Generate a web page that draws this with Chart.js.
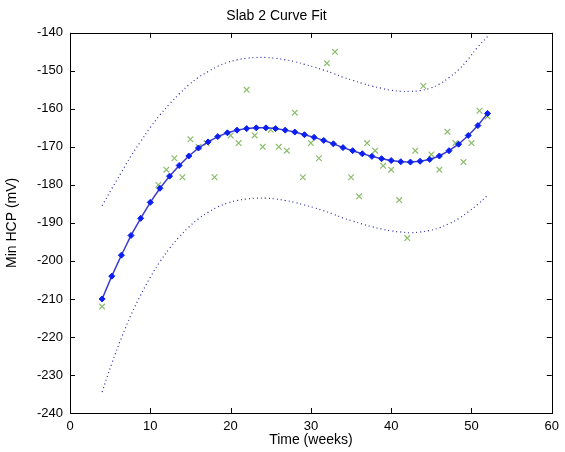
<!DOCTYPE html>
<html>
<head>
<meta charset="utf-8">
<title>Slab 2 Curve Fit</title>
<script src="https://cdn.jsdelivr.net/npm/chart.js@4.4.0/dist/chart.umd.min.js"></script>
<style>
  html, body { margin: 0; padding: 0; background: #fff; }
  #wrap { width: 565px; height: 452px; }
</style>
</head>
<body>
<div id="wrap"><canvas id="fitChart"></canvas></div>
<script>
// Measured readings (week, min HCP in mV)
const weeks = [4, 11, 12, 13, 14, 15, 16, 17, 18, 20, 21, 22, 23, 24, 25, 26, 27, 28, 29, 30,
    31, 32, 33, 35, 36, 37, 38, 39, 40, 41, 42, 43, 44, 45, 46, 47, 48, 49, 50, 51, 52];
const hcp = [-212, -180, -176, -173, -178, -168, -170, -169, -178, -167, -169, -155, -167, -170, -165.5, -170, -171, -161, -178, -169,
    -173, -148, -145, -178, -183, -169, -171, -175, -176, -184, -194, -171, -154, -172, -176, -166, -169, -174, -169, -160.5, -162];

// Fitted curve samples and the dotted bounds around it
const fitWeeks = [4, 5.2, 6.4, 7.6, 8.8, 10, 11.2, 12.4, 13.6, 14.8, 16, 17.2, 18.4, 19.6, 20.8, 22, 23.2, 24.4, 25.6, 26.8,
    28, 29.2, 30.4, 31.6, 32.8, 34, 35.2, 36.4, 37.6, 38.8, 40, 41.2, 42.4, 43.6, 44.8, 46, 47.2, 48.4, 49.6, 50.8, 52];
const fitValues = [-210.0, -204.0, -198.5, -193.3, -188.8, -184.6, -180.9, -177.7, -174.9, -172.4, -170.3, -168.7, -167.3, -166.3,
    -165.6, -165.2, -165.0, -165.0, -165.2, -165.6, -166.1, -166.8, -167.5, -168.3, -169.2, -170.2, -171.0, -171.8, -172.5,
    -173.1, -173.6, -173.9, -174.0, -173.8, -173.3, -172.4, -171.0, -169.3, -167.0, -164.4, -161.2];
const upperBound = [-185.5, -181.0, -176.7, -172.4, -168.6, -164.9, -161.6, -158.7, -156.1, -153.7, -151.7, -150.2, -148.8, -147.8,
    -147.1, -146.7, -146.5, -146.5, -146.7, -147.1, -147.6, -148.3, -149.0, -149.8, -150.7, -151.7, -152.5, -153.3, -154.0,
    -154.6, -155.1, -155.4, -155.4, -155.2, -154.6, -153.5, -151.8, -149.7, -146.9, -143.7, -141.0];
const lowerBound = [-234.5, -227.0, -220.3, -214.2, -209.0, -204.3, -200.2, -196.7, -193.7, -191.1, -188.9, -187.2, -185.8, -184.8,
    -184.1, -183.7, -183.5, -183.5, -183.7, -184.1, -184.6, -185.3, -186.0, -186.8, -187.7, -188.7, -189.5, -190.3, -191.0,
    -191.6, -192.1, -192.4, -192.6, -192.4, -192.0, -191.3, -190.2, -188.9, -187.1, -185.1, -182.8];

const xTicks = [0, 10, 20, 30, 40, 50, 60];
const yTicks = [-240, -230, -220, -210, -200, -190, -180, -170, -160, -150, -140];

function toPoints(xs, ys) {
    return xs.map((x, i) => ({ x: x, y: ys[i] }));
}

// Box around the axes with inward ticks on all four sides
const boxPlugin = {
    id: 'matlabBox',
    afterDatasetsDraw(chart) {
        const { ctx, chartArea: a, scales: { x, y } } = chart;
        const len = 5;
        ctx.save();
        ctx.strokeStyle = '#000';
        ctx.lineWidth = 1;
        ctx.strokeRect(Math.round(a.left) + 0.5, Math.round(a.top) + 0.5,
            Math.round(a.right - a.left), Math.round(a.bottom - a.top));
        ctx.beginPath();
        xTicks.forEach(v => {
            const px = Math.round(x.getPixelForValue(v)) + 0.5;
            ctx.moveTo(px, a.bottom); ctx.lineTo(px, a.bottom - len);
            ctx.moveTo(px, a.top); ctx.lineTo(px, a.top + len);
        });
        yTicks.forEach(v => {
            const py = Math.round(y.getPixelForValue(v)) + 0.5;
            ctx.moveTo(a.left, py); ctx.lineTo(a.left + len, py);
            ctx.moveTo(a.right, py); ctx.lineTo(a.right - len, py);
        });
        ctx.stroke();
        ctx.restore();
    }
};

const family = 'Arial, "Liberation Sans", sans-serif';
const tickFont = { family: family, size: 13 };
const labelFont = { family: family, size: 14 };

new Chart(document.getElementById('fitChart').getContext('2d'), {
    type: 'scatter',
    data: {
        datasets: [
            {
                label: 'Fit',
                type: 'line',
                data: toPoints(fitWeeks, fitValues),
                borderColor: '#3a3acf',
                borderWidth: 1.5,
                pointStyle: 'rectRot',
                pointRadius: 3,
                pointBackgroundColor: '#0a1ff0',
                pointBorderColor: '#0a1ff0',
                pointBorderWidth: 1,
                tension: 0,
                order: 0
            },
            {
                label: 'Data',
                data: toPoints(weeks, hcp),
                showLine: false,
                pointStyle: 'crossRot',
                pointRadius: 4,
                pointBorderColor: '#8cbd6c',
                pointBorderWidth: 1.2,
                order: 1
            },
            {
                label: 'Upper',
                type: 'line',
                data: toPoints(fitWeeks, upperBound),
                borderColor: '#2a2aa8',
                borderWidth: 1.2,
                borderDash: [1, 3],
                pointRadius: 0,
                tension: 0.4,
                order: 2
            },
            {
                label: 'Lower',
                type: 'line',
                data: toPoints(fitWeeks, lowerBound),
                borderColor: '#2a2aa8',
                borderWidth: 1.2,
                borderDash: [1, 3],
                pointRadius: 0,
                tension: 0.4,
                order: 2
            }
        ]
    },
    options: {
        responsive: true,
        maintainAspectRatio: false,
        animation: false,
        layout: { padding: { top: 0, right: 12, bottom: 0, left: 0 } },
        plugins: {
            legend: { display: false },
            tooltip: { enabled: false },
            title: {
                display: true,
                text: 'Slab 2 Curve Fit',
                color: '#000',
                font: { family: family, size: 14, weight: 'normal' },
                padding: { top: 8, bottom: 8 }
            }
        },
        scales: {
            x: {
                type: 'linear',
                min: 0,
                max: 60,
                afterBuildTicks: scale => { scale.ticks = xTicks.map(v => ({ value: v })); },
                afterFit: scale => { scale.height = 39; },
                grid: { display: false, drawTicks: false },
                border: { display: false },
                ticks: { color: '#000', font: tickFont, padding: 6, maxRotation: 0 },
                title: { display: true, text: 'Time (weeks)', color: '#000', font: labelFont, padding: { top: 2, bottom: 3 } }
            },
            y: {
                type: 'linear',
                min: -240,
                max: -140,
                afterBuildTicks: scale => { scale.ticks = yTicks.map(v => ({ value: v })); },
                afterFit: scale => { scale.width = 70; },
                grid: { display: false, drawTicks: false },
                border: { display: false },
                ticks: { color: '#000', font: tickFont, padding: 7 },
                title: { display: true, text: 'Min HCP (mV)', color: '#000', font: labelFont, padding: { top: 4, bottom: 4 } }
            }
        }
    },
    plugins: [boxPlugin]
});
</script>
</body>
</html>
